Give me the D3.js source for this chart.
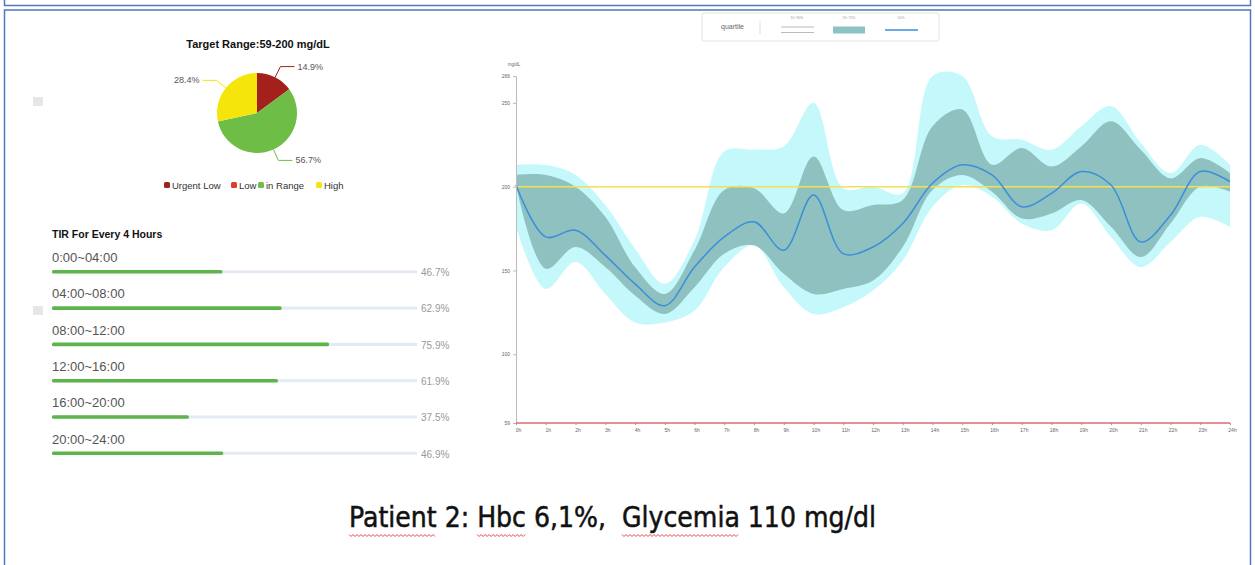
<!DOCTYPE html>
<html>
<head>
<meta charset="utf-8">
<script src="https://cdn.jsdelivr.net/npm/d3@7"></script>
<style>
  html, body { margin: 0; padding: 0; background: #fff; overflow: hidden; }
  svg { display: block; font-family: "Liberation Sans", Arial, sans-serif; }
</style>
</head>
<body>
<div id="chart"></div>
<script>
// ---- data ----
const pieCategories = ["Urgent Low", "Low", "in Range", "High"];
const pieValues = [14.9, 0, 56.7, 28.4];

const tirLabels = ["0:00~04:00", "04:00~08:00", "08:00~12:00", "12:00~16:00", "16:00~20:00", "20:00~24:00"];
const tirValues = [46.7, 62.9, 75.9, 61.9, 37.5, 46.9];

const hours = [0, 1, 2, 3, 4, 5, 6, 7, 8, 9, 10, 11, 12, 13, 14, 15, 16, 17, 18, 19, 20, 21, 22, 23, 24];
const hourLabels = ["0h", "1h", "2h", "3h", "4h", "5h", "6h", "7h", "8h", "9h", "10h", "11h", "12h",
    "13h", "14h", "15h", "16h", "17h", "18h", "19h", "20h", "21h", "22h", "23h", "24h"];

// glucose percentiles per hour (mg/dL)
const p10 = [176, 139, 155, 136, 119, 119, 126, 152, 165, 140, 124, 128, 138, 156, 188, 201, 194, 178, 174, 190, 170, 152, 167, 182, 176];
const p25 = [201, 151, 164, 152, 135, 124, 140, 160, 165, 148, 136, 139, 144, 164, 198, 207, 197, 181, 184, 192, 176, 158, 178, 200, 197];
const p50 = [201, 170, 174, 159, 142, 129, 152, 170, 179, 162, 195, 160, 164, 178, 202, 213, 207, 188, 196, 209, 201, 167, 183, 209, 203];
const p75 = [207, 207, 200, 182, 152, 136, 162, 198, 199, 184, 218, 186, 189, 192, 236, 246, 213, 223, 212, 224, 239, 222, 205, 217, 208];
const p90 = [213, 213, 207, 189, 163, 142, 168, 221, 222, 224, 250, 199, 200, 196, 266, 266, 230, 228, 222, 236, 248, 226, 208, 225, 213];

const yTicks = [59, 100, 150, 200, 250, 266];
const targetLow = 59;
const targetHigh = 200;

const titleText = "Patient 2: Hbc 6,1%,  Glycemia 110 mg/dl";
const underlinedWords = ["Patient", "Hbc", "Glycemia"];

// ---- styles ----
const pieColors = ["#a3201c", "#e23b2e", "#6dbd46", "#f5e50a"];
const frameColor = "#4f77be";

const svg = d3.select("#chart")
    .append("svg")
    .attr("width", 1255)
    .attr("height", 565);

/**
 * Draws the two slide boxes behind the charts.
 */
function drawFrame(svg) {
    svg.append("rect")
        .attr("x", 4.5).attr("y", -20)
        .attr("width", 1246).attr("height", 25.5)
        .attr("fill", "#fff")
        .attr("stroke", frameColor)
        .attr("stroke-width", 1.5);

    svg.append("rect")
        .attr("x", 4.5).attr("y", 10)
        .attr("width", 1246).attr("height", 580)
        .attr("fill", "#fff")
        .attr("stroke", frameColor)
        .attr("stroke-width", 1.5);

    // small grey placeholders on the left
    [97, 306].forEach(yy => {
        svg.append("rect")
            .attr("x", 33).attr("y", yy)
            .attr("width", 10).attr("height", 9)
            .attr("fill", "#e6e6e6");
    });
}

/**
 * Renders the target-range pie with leader labels and legend.
 */
function drawPie(svg) {
    const cx = 257, cy = 113, radius = 40;

    svg.append("text")
        .attr("x", 258).attr("y", 48)
        .attr("text-anchor", "middle")
        .attr("font-size", 11)
        .attr("font-weight", "bold")
        .attr("fill", "#111")
        .text("Target Range:59-200 mg/dL");

    const g = svg.append("g")
        .attr("transform", `translate(${cx},${cy})`);

    const pie = d3.pie().sort(null).value(d => d);
    const slices = pie(pieValues);

    const arc = d3.arc().innerRadius(0).outerRadius(radius);
    const edgeArc = d3.arc().innerRadius(radius).outerRadius(radius);
    const outerArc = d3.arc().innerRadius(radius + 12).outerRadius(radius + 12);

    g.selectAll("path.slice")
        .data(slices)
        .enter()
        .append("path")
        .attr("class", "slice")
        .attr("d", arc)
        .attr("fill", (d, i) => pieColors[i]);

    const labelled = slices.filter(d => d.value > 0);

    g.selectAll("polyline")
        .data(labelled)
        .enter()
        .append("polyline")
        .attr("fill", "none")
        .attr("stroke", d => pieColors[d.index])
        .attr("stroke-width", 1)
        .attr("points", d => {
            const p1 = edgeArc.centroid(d);
            const p2 = outerArc.centroid(d);
            const right = p2[0] >= 0;
            const p3 = [p2[0] + (right ? 14 : -14), p2[1]];
            return [p1, p2, p3].map(p => p.join(",")).join(" ");
        });

    g.selectAll("text.pct")
        .data(labelled)
        .enter()
        .append("text")
        .attr("class", "pct")
        .attr("x", d => {
            const p2 = outerArc.centroid(d);
            return p2[0] >= 0 ? p2[0] + 17 : p2[0] - 17;
        })
        .attr("y", d => outerArc.centroid(d)[1] + 3)
        .attr("text-anchor", d => outerArc.centroid(d)[0] >= 0 ? "start" : "end")
        .attr("font-size", 9)
        .attr("fill", "#555")
        .text(d => d.value.toFixed(1) + "%");

    // legend
    const legendX = [164, 231, 258, 316];
    const legend = svg.append("g");
    pieCategories.forEach((name, i) => {
        legend.append("rect")
            .attr("x", legendX[i]).attr("y", 182)
            .attr("width", 6).attr("height", 6)
            .attr("rx", 1.5)
            .attr("fill", pieColors[i]);
        legend.append("text")
            .attr("x", legendX[i] + 8).attr("y", 188.5)
            .attr("font-size", 9.5)
            .attr("fill", "#333")
            .text(name);
    });
}

/**
 * Renders the time-in-range bars for every 4 hours.
 */
function drawTir(svg) {
    svg.append("text")
        .attr("x", 52).attr("y", 238)
        .attr("font-size", 10.5)
        .attr("font-weight", "bold")
        .attr("fill", "#111")
        .text("TIR For Every 4 Hours");

    const x = d3.scaleLinear().domain([0, 100]).range([52, 417]);
    const rowY = d3.scaleLinear().domain([0, 1]).range([262, 298.3]);

    const rows = svg.selectAll("g.tir")
        .data(tirValues)
        .enter()
        .append("g")
        .attr("class", "tir")
        .attr("transform", (d, i) => `translate(0,${rowY(i)})`);

    rows.append("text")
        .attr("x", 52).attr("y", 0)
        .attr("font-size", 13)
        .attr("fill", "#555")
        .text((d, i) => tirLabels[i]);

    rows.append("rect")
        .attr("x", x(0)).attr("y", 8.3)
        .attr("width", x(100) - x(0)).attr("height", 3)
        .attr("fill", "#e4eaf3");

    rows.append("rect")
        .attr("x", x(0)).attr("y", 8)
        .attr("width", d => x(d) - x(0)).attr("height", 3.6)
        .attr("rx", 1.5)
        .attr("fill", "#5db44a");

    rows.append("text")
        .attr("x", 421).attr("y", 14)
        .attr("font-size", 10)
        .attr("fill", "#999")
        .text(d => d.toFixed(1) + "%");
}

/**
 * Renders the ambulatory glucose profile (percentile bands + median).
 */
function drawAgp(svg) {
    const x = d3.scaleLinear().domain([0, 24]).range([516, 1230]);
    const y = d3.scaleLinear().domain([59, 266]).range([423, 76]);
    const curve = d3.curveCatmullRom.alpha(0.5);

    // legend box
    const lg = svg.append("g");
    lg.append("rect")
        .attr("x", 702).attr("y", 13)
        .attr("width", 237).attr("height", 28)
        .attr("rx", 2)
        .attr("fill", "#fff")
        .attr("stroke", "#e3e3e3");
    lg.append("text")
        .attr("x", 721).attr("y", 29)
        .attr("font-size", 7)
        .attr("fill", "#666")
        .text("quartile");
    lg.append("line")
        .attr("x1", 760).attr("x2", 760)
        .attr("y1", 21).attr("y2", 34)
        .attr("stroke", "#ddd");
    [["10~90%", 797], ["25~75%", 849], ["50%", 901]].forEach(([t, tx]) => {
        lg.append("text")
            .attr("x", tx).attr("y", 19)
            .attr("text-anchor", "middle")
            .attr("font-size", 3.5)
            .attr("fill", "#999")
            .text(t);
    });
    [27, 32.5].forEach(ly => {
        lg.append("line")
            .attr("x1", 781).attr("x2", 814)
            .attr("y1", ly).attr("y2", ly)
            .attr("stroke", "#aaa").attr("stroke-width", 0.8);
    });
    lg.append("rect")
        .attr("x", 833).attr("y", 26.5)
        .attr("width", 32).attr("height", 7)
        .attr("fill", "#8cc2c1");
    lg.append("line")
        .attr("x1", 885).attr("x2", 918)
        .attr("y1", 30).attr("y2", 30)
        .attr("stroke", "#3b8fd8").attr("stroke-width", 1.5);

    const idx = hours.map((h, i) => i);

    // 10-90% band
    svg.append("path")
        .datum(idx)
        .attr("fill", "#c4f8fb")
        .attr("d", d3.area()
            .curve(curve)
            .x(i => x(hours[i]))
            .y0(i => y(p10[i]))
            .y1(i => y(p90[i])));

    // 25-75% band
    svg.append("path")
        .datum(idx)
        .attr("fill", "#8ec1c0")
        .attr("d", d3.area()
            .curve(curve)
            .x(i => x(hours[i]))
            .y0(i => y(p25[i]))
            .y1(i => y(p75[i])));

    // target high line
    svg.append("line")
        .attr("x1", x(0)).attr("x2", x(24))
        .attr("y1", y(targetHigh)).attr("y2", y(targetHigh))
        .attr("stroke", "#f3e24d")
        .attr("stroke-width", 1.5);

    // median
    svg.append("path")
        .datum(idx)
        .attr("fill", "none")
        .attr("stroke", "#3b8fd8")
        .attr("stroke-width", 1.5)
        .attr("d", d3.line()
            .curve(curve)
            .x(i => x(hours[i]))
            .y(i => y(p50[i])));

    // y axis
    const yAxis = svg.append("g")
        .attr("transform", `translate(${x(0)},0)`)
        .call(d3.axisLeft(y).tickValues(yTicks).tickSize(3).tickFormat(d3.format("d")));
    yAxis.select(".domain").attr("stroke", "#bbb");
    yAxis.selectAll(".tick line").attr("stroke", "#bbb");
    yAxis.selectAll("text").attr("font-size", 5).attr("fill", "#666");

    svg.append("text")
        .attr("x", 514).attr("y", 66)
        .attr("text-anchor", "middle")
        .attr("font-size", 4.5)
        .attr("fill", "#666")
        .text("mg/dL");

    // x axis
    const xAxis = svg.append("g")
        .attr("transform", `translate(0,${y(targetLow)})`)
        .call(d3.axisBottom(x).tickValues(hours).tickSize(2).tickFormat((d, i) => hourLabels[i]));
    xAxis.select(".domain").remove();
    xAxis.selectAll(".tick line").attr("stroke", "#999");
    xAxis.selectAll("text").attr("font-size", 5).attr("fill", "#666").attr("dx", 2);

    // target low line
    svg.append("line")
        .attr("x1", x(0)).attr("x2", x(24))
        .attr("y1", y(targetLow)).attr("y2", y(targetLow))
        .attr("stroke", "#e06a6a")
        .attr("stroke-width", 1.5);
}

/**
 * Slide caption with spell-check squiggles.
 */
function drawTitle(svg) {
    const t = svg.append("text")
        .attr("x", 349).attr("y", 527)
        .attr("font-family", "'Liberation Sans Narrow', 'DejaVu Sans Condensed', sans-serif")
        .attr("font-size", 29)
        .attr("fill", "#111")
        .attr("stroke", "#111")
        .attr("stroke-width", 0.5)
        .style("white-space", "pre")
        .attr("textLength", 527)
        .attr("lengthAdjust", "spacingAndGlyphs")
        .text(titleText);

    const node = t.node();
    underlinedWords.forEach(word => {
        const start = titleText.indexOf(word);
        const ext0 = node.getExtentOfChar(start);
        const ext1 = node.getExtentOfChar(start + word.length - 1);
        const x0 = ext0.x, x1 = ext1.x + ext1.width;
        const pts = d3.range(x0, x1, 2).map((px, k) => [px, 535 + (k % 2 ? 1.5 : -0.5)]);
        svg.append("path")
            .attr("fill", "none")
            .attr("stroke", "#e03a3a")
            .attr("stroke-width", 0.9)
            .attr("d", d3.line()(pts));
    });
}

drawFrame(svg);
drawPie(svg);
drawTir(svg);
drawAgp(svg);
drawTitle(svg);
</script>
</body>
</html>
